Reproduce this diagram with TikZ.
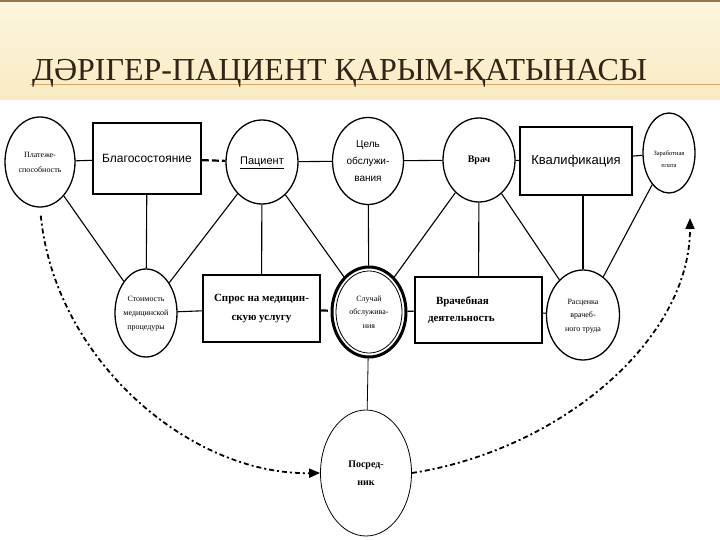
\documentclass[tikz,border=0pt]{standalone}
\usepackage{fontspec}
\setmainfont{Liberation Serif}
\setsansfont{Liberation Sans}
\newfontfamily\titlefont{Liberation Serif}
\usetikzlibrary{shapes.geometric,arrows.meta}

\definecolor{creamtop}{RGB}{252,246,224}
\definecolor{creambot}{RGB}{249,234,194}
\definecolor{titlebrown}{RGB}{50,36,22}
\definecolor{rulebrown}{RGB}{206,168,100}
\definecolor{framebrown}{RGB}{150,120,80}

% text set inside an oval without widening it
\newcommand{\inoval}[1]{\makebox[0pt]{\begin{tabular}{@{}c@{}}#1\end{tabular}}}

\tikzset{
  oval/.style={draw, ellipse, inner sep=0pt, line width=1.3pt},
  box/.style={draw, rectangle, inner sep=0pt, line width=1.7pt, align=center},
  link/.style={line width=1.1pt},
  thicklink/.style={line width=2.2pt, dash pattern=on 7pt off 3pt},
  flow/.style={line width=1.8pt, dash pattern=on 5pt off 3pt on 2pt off 3pt,
    -{Triangle[length=11pt,width=9pt]}},
}

\begin{document}
\begin{tikzpicture}[x=1pt,y=-1pt]
\useasboundingbox (0,0) rectangle (720,540);

% title band
\shade[top color=creamtop, bottom color=creambot] (0,0) rectangle (720,100);
\draw[framebrown, line width=2pt] (0,1) -- (720,1);
\draw[rulebrown, line width=0.8pt] (30,84) -- (720,84);
\node[anchor=base west, inner sep=0pt, text=titlebrown, font=\titlefont\fontsize{32}{32}\selectfont]
  (title) at (32,81) {ДӘРІГЕР-ПАЦИЕНТ ҚАРЫМ-ҚАТЫНАСЫ};

% upper row
\node[oval, minimum width=70, minimum height=90, font=\fontsize{8}{15}\selectfont]
  (pay) at (40,162) {\inoval{Платеже-\\способность}};
\node[box, minimum width=108, minimum height=71, font=\sffamily\fontsize{12}{14}\selectfont]
  (wealth) at (147,158.5) {Благосостояние};
\node[oval, minimum width=72, minimum height=84, font=\sffamily\fontsize{11}{13}\selectfont]
  (patient) at (262,162) {\inoval{\underline{Пациент}}};
\node[oval, minimum width=71, minimum height=87, font=\sffamily\fontsize{10}{17}\selectfont]
  (goal) at (368,161) {\inoval{Цель\\обслужи-\\вания}};
\node[oval, minimum width=72, minimum height=84, font=\bfseries\fontsize{10}{12}\selectfont]
  (doctor) at (479,160) {\inoval{Врач}};
\node[box, minimum width=112, minimum height=68, font=\sffamily\fontsize{13}{15}\selectfont]
  (qual) at (576,161) {Квалификация};
\node[oval, minimum width=52, minimum height=80, font=\fontsize{6.5}{12}\selectfont]
  (wage) at (669,153) {\inoval{\\Заработная\\плата}};

% lower row
\node[oval, minimum width=62, minimum height=88, font=\fontsize{8}{14}\selectfont]
  (cost) at (146,313) {\inoval{Стоимость\\медицинской\\процедуры}};
\node[box, minimum width=117, minimum height=67, font=\bfseries\fontsize{11}{19}\selectfont]
  (demand) at (261.5,308.5) {Спрос на медицин-\\скую услугу};
\node[oval, line width=3pt, minimum width=74, minimum height=90, font=\fontsize{8}{13.5}\selectfont]
  (case) at (369,312) {\inoval{Случай\\обслужива-\\ния}};
\draw[line width=0.8pt] (case.center) ellipse [x radius=33, y radius=41];
\node[box, align=left, text width=101, inner xsep=13pt, minimum width=127, minimum height=66,
  font=\bfseries\fontsize{11}{17}\selectfont]
  (activity) at (478.5,310) {\hspace*{8pt}Врачебная\\деятельность};
\node[oval, minimum width=73, minimum height=90, font=\fontsize{8}{13.5}\selectfont]
  (rate) at (583,315) {\inoval{Расценка\\врачеб-\\ного труда\\ }};

% bottom
\node[oval, line width=0.8pt, minimum width=91, minimum height=126, font=\bfseries\fontsize{10}{18}\selectfont]
  (mediator) at (366,473) {\inoval{Посред-\\ник}};
\coordinate (wagein) at (690,218);

% links
\draw[link] (pay) -- (wealth);
\draw[thicklink] (wealth) -- (patient);
\draw[link] (patient) -- (goal);
\draw[link] (goal) -- (doctor);
\draw[link] (doctor) -- (qual);
\draw[link] (qual) -- (wage);
\draw[link] (pay) -- (cost);
\draw[link] (wealth) -- (cost);
\draw[link] (patient) -- (cost);
\draw[link] (patient) -- (demand);
\draw[link] (patient) -- (case);
\draw[link] (goal) -- (case);
\draw[link] (doctor) -- (case);
\draw[link] (doctor) -- (activity);
\draw[link] (doctor) -- (rate);
\draw[link] (rate.north |- qual.south) -- (rate);
\draw[link] (wage) -- (rate);
\draw[link] (cost) -- (demand);
\draw[thicklink] (demand) -- (case);
\draw[link] (case) -- (activity);
\draw[link] (activity) -- (rate);
\draw[line width=0.8pt] (case) -- (mediator);

% flows through the mediator
\draw[flow, shorten <=8pt] (pay.south) .. controls (55,360) and (190,475) .. (mediator.west);
\draw[flow] (mediator.east) .. controls (560,450) and (690,340) .. (wagein);
\end{tikzpicture}
\end{document}
